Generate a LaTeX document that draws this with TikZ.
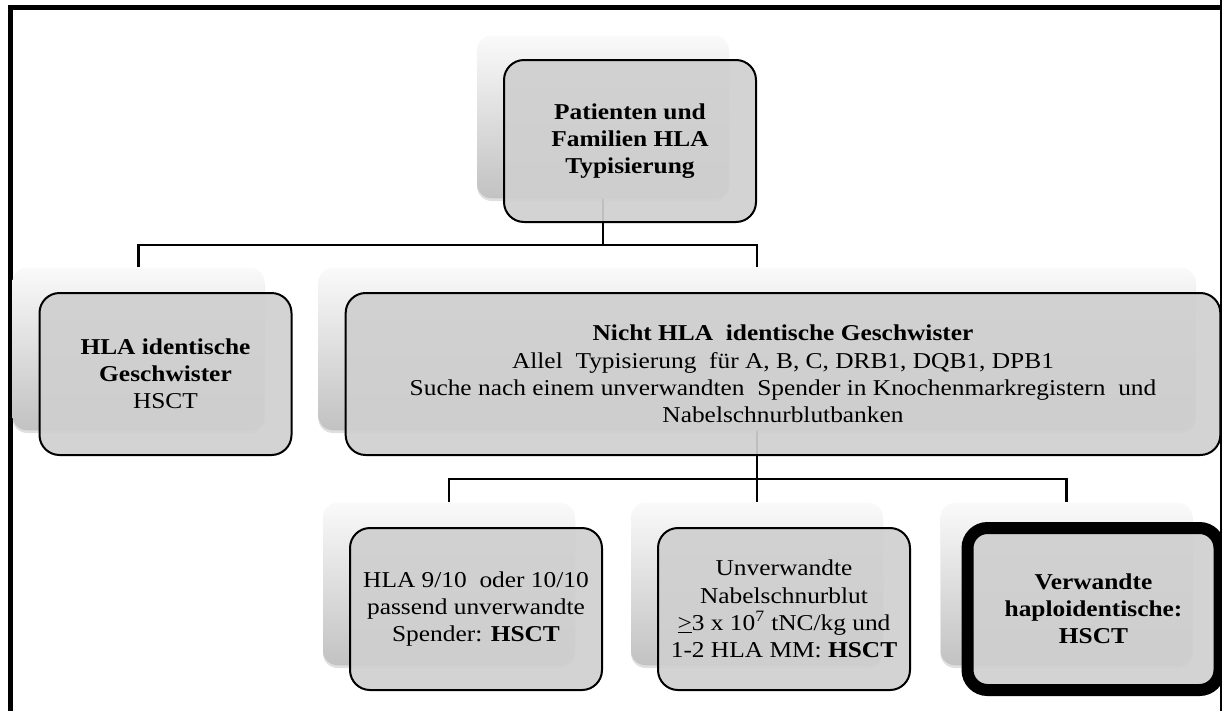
\documentclass[tikz,border=0pt]{standalone}
\usepackage{fontspec}
\setmainfont[FakeStretch=1.12]{Liberation Serif}
\usetikzlibrary{positioning,calc,shadows,backgrounds}

\tikzset{
  backbox/.style={rounded corners=11pt,minimum width=#1,minimum height=122pt,
    top color=gray!4,middle color=gray!12,bottom color=gray!48,
    drop shadow={shadow xshift=0pt,shadow yshift=-2pt,opacity=0.25}},
  backbox/.default=189pt,
  frontbox/.style={draw=black,line width=1.5pt,rounded corners=15pt,
    fill=gray!38,fill opacity=0.92,text opacity=1,
    minimum width=#1,minimum height=121.5pt,align=center,
    font=\fontsize{17}{20.4}\selectfont},
  frontbox/.default=189pt,
  conn/.style={draw=black,line width=1.8pt}
}

\begin{document}
\begin{tikzpicture}[x=0.75pt,y=-0.75pt]
\useasboundingbox (0,0) rectangle (1222,711);
% Rahmen
\draw[line width=3.75pt] (10,711) -- (10,7.5) -- (1222,7.5);
\draw[line width=1.5pt] (1221,0) -- (1221,711);

% Ebene 1
\node[backbox] (topB) at (603,117) {};
\node[frontbox] (topF) at ($(topB)+(27,24)$)
  {\textbf{Patienten und}\\\textbf{Familien HLA}\\\textbf{Typisierung}};

% Ebene 2
\node[backbox] (hlaB) at (138.5,349) {};
\node[frontbox] (hlaF) at ($(hlaB)+(27,25)$)
  {\textbf{HLA identische}\\\textbf{Geschwister}\\HSCT};
\node[backbox=658pt] (nichtB) at (757,349) {};
\node[frontbox=656pt] (nichtF) at ($(nichtB)+(26,25)$)
  {\textbf{Nicht HLA~ identische Geschwister}\\
   Allel~ Typisierung~ für A, B, C, DRB1, DQB1, DPB1\\
   Suche nach einem unverwandten~ Spender in Knochenmarkregistern~ und\\
   Nabelschnurblutbanken};

% Ebene 3
\node[backbox] (unvB) at (449,584) {};
\node[frontbox] (unvF) at ($(unvB)+(27,25)$)
  {HLA 9/10~ oder 10/10\\passend unverwandte\\Spender: \textbf{HSCT}};
\node[backbox] (nsbB) at (757,584) {};
\node[frontbox] (nsbF) at ($(nsbB)+(27,25)$)
  {Unverwandte\\Nabelschnurblut\\\underline{>}3 x 10\textsuperscript{7} tNC/kg und\\1-2 HLA MM: \textbf{HSCT}};
\node[backbox] (hapB) at (1066.5,584) {};
\node[frontbox,line width=9pt] (hapF) at ($(hapB)+(27,25)$)
  {\textbf{Verwandte}\\\textbf{haploidentische:}\\\textbf{HSCT}};

% Verbindungen
\begin{scope}[on background layer]
\coordinate (busA) at ($(topF.south)!0.5!(hlaB.north)$);
\coordinate (busB) at ($(nichtF.south)!0.5!(unvB.north)$);
\draw[conn] (topB.south) -- (topB.south |- busA) -| (hlaB.north);
\draw[conn] (topB.south |- busA) -| (nichtB.north);
\draw[conn] (nichtB.south) -- (nsbB.north);
\draw[conn] (nichtB.south |- busB) -| (unvB.north);
\draw[conn] (nichtB.south |- busB) -| (hapB.north);
\end{scope}
\end{tikzpicture}
\end{document}
